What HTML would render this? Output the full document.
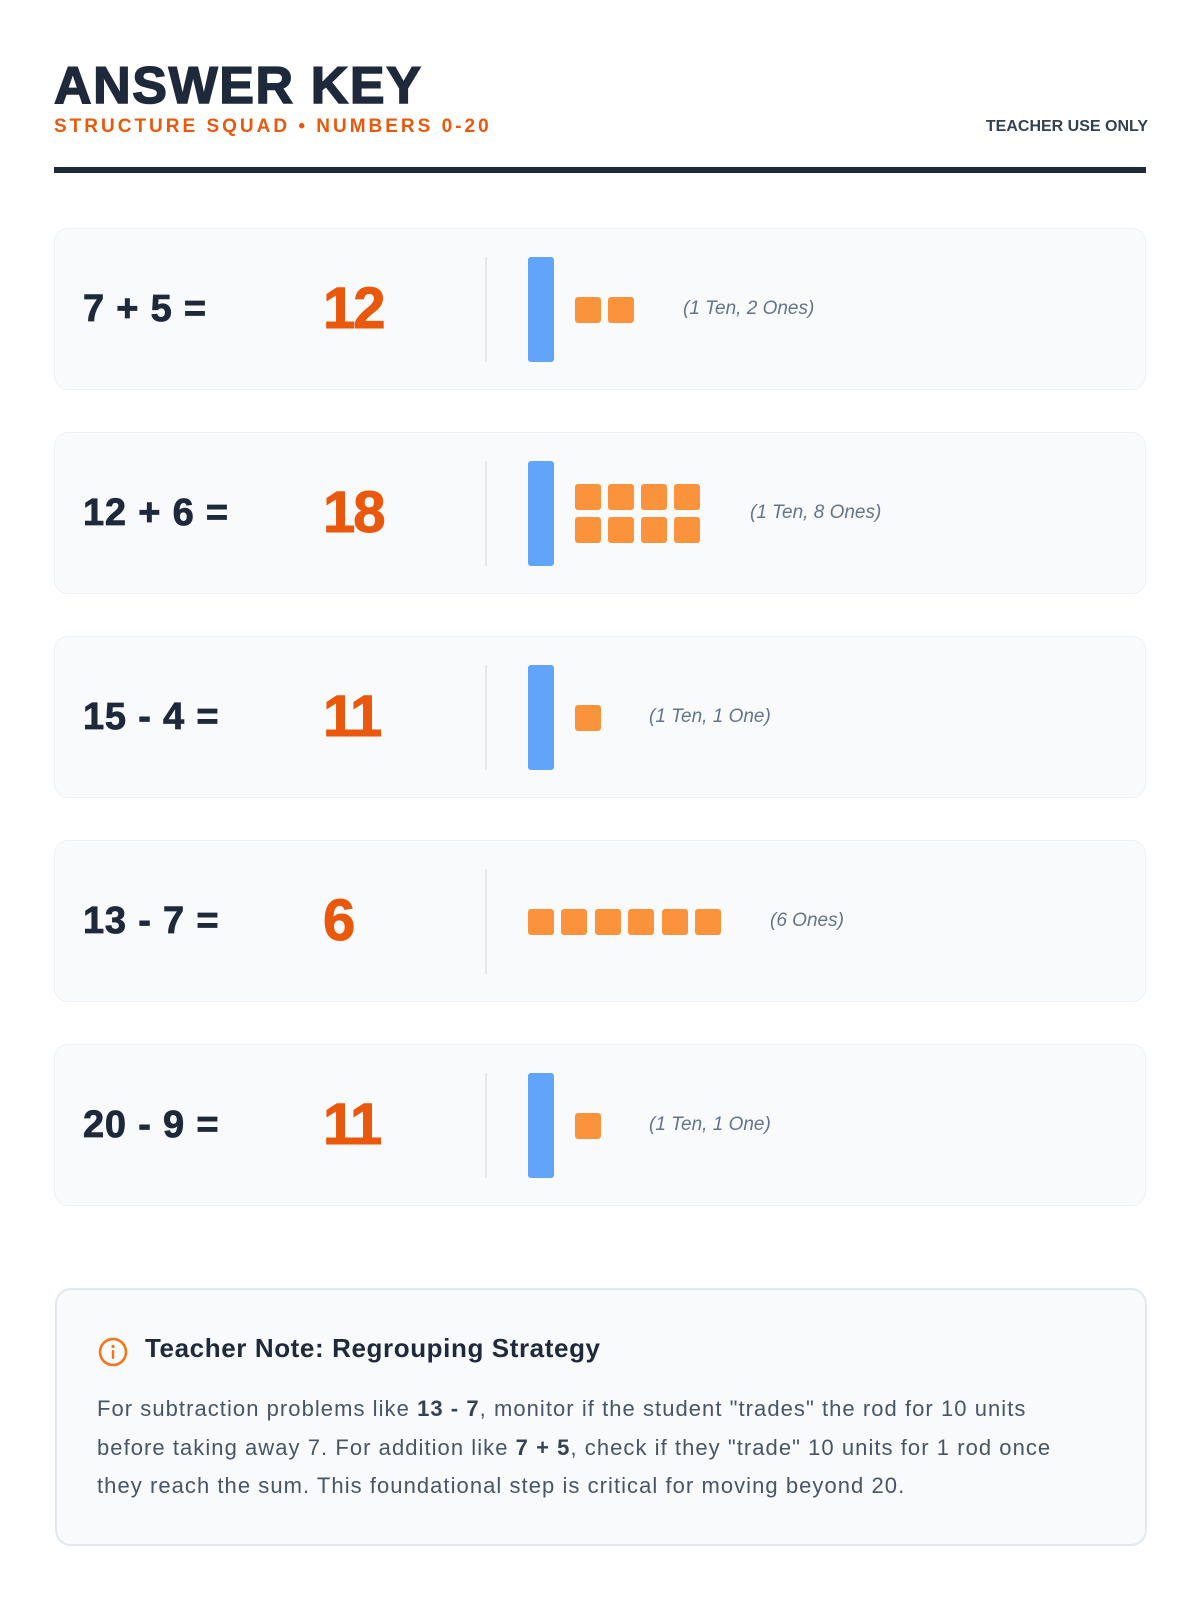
<!DOCTYPE html>
<html><head><meta charset="utf-8"><style>
*{margin:0;padding:0;box-sizing:border-box}
body{width:1200px;height:1600px;background:#fff;font-family:"Liberation Sans",sans-serif;position:relative;overflow:hidden}
.abs{position:absolute}
h1{position:absolute;left:54px;top:56px;font-size:52px;font-weight:900;color:#1e293b;letter-spacing:1.6px;-webkit-text-stroke:1.5px #1e293b}
.sub{left:54px;top:116px;font-size:19px;font-weight:700;color:#ea580c;letter-spacing:3px}
.tuo{right:52px;top:118px;font-size:16px;font-weight:700;color:#334155;letter-spacing:0px}
.rule{left:54px;top:167px;width:1092px;height:6px;background:#1e293b}
.card{left:54px;width:1092px;height:162px;background:#f8fafc;border:1px solid #eef2f6;border-radius:14px}
.eq{position:absolute;left:28px;top:0;height:160px;line-height:160px;font-size:38px;font-weight:800;color:#1e293b;letter-spacing:0.8px;-webkit-text-stroke:0.8px #1e293b}
.ans{position:absolute;left:268px;top:0;height:160px;line-height:160px;font-size:58px;font-weight:900;color:#ea580c;letter-spacing:-2px;-webkit-text-stroke:1px #ea580c}
.div{position:absolute;left:430px;top:28px;width:2px;height:105px;background:#e2e8f0}
.rod{position:absolute;left:473px;top:28px;width:26px;height:105px;background:#60a5fa;border-radius:3px}
.u{position:absolute;width:26px;height:26px;background:#fb923c;border-radius:3px}
.lbl{position:absolute;top:0;height:160px;line-height:160px;font-size:19px;font-style:italic;color:#64748b}
.note{left:55px;top:1288px;width:1092px;height:258px;background:#f8fafc;border:2px solid #e2e8f0;border-radius:16px}
</style></head><body>
<h1>ANSWER KEY</h1>
<div class="abs sub">STRUCTURE SQUAD • NUMBERS 0-20</div>
<div class="abs tuo">TEACHER USE ONLY</div>
<div class="abs rule"></div>

<div class="abs card" style="top:228px"><div class="eq">7 + 5 =</div><div class="ans">12</div><div class="div"></div><div class="rod"></div>
<div class="u" style="left:520px;top:68px"></div><div class="u" style="left:553px;top:68px"></div>
<div class="lbl" style="left:628px">(1 Ten, 2 Ones)</div></div>

<div class="abs card" style="top:432px"><div class="eq">12 + 6 =</div><div class="ans">18</div><div class="div"></div><div class="rod"></div>
<div class="u" style="left:520px;top:51px"></div><div class="u" style="left:553px;top:51px"></div><div class="u" style="left:586px;top:51px"></div><div class="u" style="left:619px;top:51px"></div>
<div class="u" style="left:520px;top:84px"></div><div class="u" style="left:553px;top:84px"></div><div class="u" style="left:586px;top:84px"></div><div class="u" style="left:619px;top:84px"></div>
<div class="lbl" style="left:695px">(1 Ten, 8 Ones)</div></div>

<div class="abs card" style="top:636px"><div class="eq">15 - 4 =</div><div class="ans">11</div><div class="div"></div><div class="rod"></div>
<div class="u" style="left:520px;top:68px"></div>
<div class="lbl" style="left:594px">(1 Ten, 1 One)</div></div>

<div class="abs card" style="top:840px"><div class="eq">13 - 7 =</div><div class="ans">6</div><div class="div"></div>
<div class="u" style="left:473px;top:68px"></div><div class="u" style="left:506px;top:68px"></div><div class="u" style="left:540px;top:68px"></div><div class="u" style="left:573px;top:68px"></div><div class="u" style="left:607px;top:68px"></div><div class="u" style="left:640px;top:68px"></div>
<div class="lbl" style="left:715px">(6 Ones)</div></div>

<div class="abs card" style="top:1044px"><div class="eq">20 - 9 =</div><div class="ans">11</div><div class="div"></div><div class="rod"></div>
<div class="u" style="left:520px;top:68px"></div>
<div class="lbl" style="left:594px">(1 Ten, 1 One)</div></div>

<div class="abs note">
<svg class="abs" style="left:41px;top:47px" width="30" height="30" viewBox="0 0 30 30"><circle cx="15" cy="15" r="13" fill="none" stroke="#f97316" stroke-width="2.5"/><circle cx="15" cy="9.5" r="1.6" fill="#f97316"/><rect x="13.8" y="13" width="2.4" height="9" rx="1" fill="#f97316"/></svg>
<div class="abs" style="left:88px;top:43px;font-size:26px;font-weight:700;color:#1e293b;letter-spacing:0.6px">Teacher Note: Regrouping Strategy</div>
<div class="abs" style="left:40px;top:100px;width:1000px;font-size:22px;line-height:38.5px;color:#475569;letter-spacing:1.05px">For subtraction problems like <b style="color:#334155">13 - 7</b>, monitor if the student "trades" the rod for 10 units before taking away 7. For addition like <b style="color:#334155">7 + 5</b>, check if they "trade" 10 units for 1 rod once they reach the sum. This foundational step is critical for moving beyond 20.</div>
</div>
</body></html>
